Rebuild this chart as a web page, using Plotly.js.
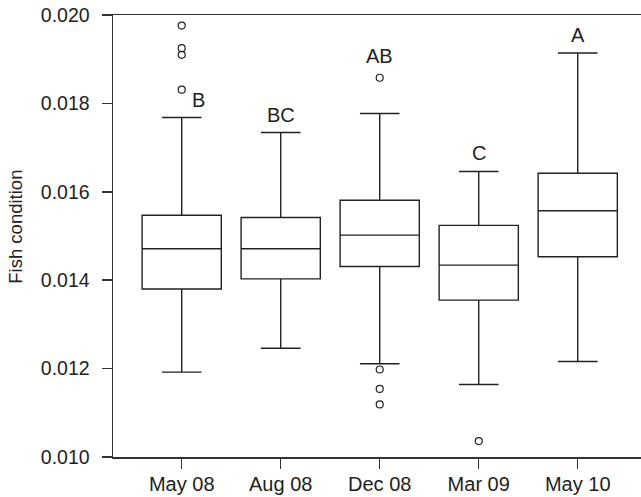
<!DOCTYPE html>
<html>
<head>
<meta charset="utf-8">
<script src="https://cdn.plot.ly/plotly-3.0.1.min.js"></script>
<style>html,body{margin:0;padding:0;background:#fff;}#chart{width:641px;height:497px;}</style>
</head>
<body>
<div id="chart"></div>
<script>
var categories = ["May 08", "Aug 08", "Dec 08", "Mar 09", "May 10"];
var lowerFence = [0.01192, 0.01246, 0.01211, 0.01164, 0.01216];
var q1         = [0.01380, 0.01403, 0.01431, 0.01355, 0.01453];
var median     = [0.01471, 0.01471, 0.01502, 0.01434, 0.01557];
var q3         = [0.01547, 0.01542, 0.01581, 0.01524, 0.01642];
var upperFence = [0.01768, 0.01734, 0.01777, 0.01646, 0.01914];
var outlierCat = ["May 08", "May 08", "May 08", "May 08", "Dec 08", "Dec 08", "Dec 08", "Dec 08", "Mar 09"];
var outlierVal = [0.01976, 0.01925, 0.01910, 0.01831, 0.01858, 0.01198, 0.01154, 0.01119, 0.01036];
var letters    = ["B", "BC", "AB", "C", "A"];
var yTicks     = [0.010, 0.012, 0.014, 0.016, 0.018, 0.020];
var yTickText  = ["0.010", "0.012", "0.014", "0.016", "0.018", "0.020"];
var yTitle     = "Fish condition";

var ink = "#222";
var fam = "Liberation Sans, Arial, sans-serif";
var xTickFont = {family: fam, size: 20, color: "#222"};
var yTickFont = {family: fam, size: 19.5, color: "#222"};
var titleFont = {family: fam, size: 18.5, color: "#222"};

var boxTrace = {
  type: "box",
  x: categories,
  q1: q1, median: median, q3: q3,
  lowerfence: lowerFence, upperfence: upperFence,
  fillcolor: "rgba(255,255,255,0)",
  line: {color: ink, width: 1.4},
  whiskerwidth: 0.5,
  boxpoints: false,
  hoverinfo: "skip",
  showlegend: false
};
var outTrace = {
  type: "scatter", mode: "markers",
  x: outlierCat, y: outlierVal,
  marker: {symbol: "circle-open", size: 7, color: ink, line: {width: 1.2, color: ink}},
  hoverinfo: "skip", showlegend: false
};

var annotations = letters.map(function (t, i) {
  var top = upperFence[i];
  var xs = 0;
  if (i === 0) { xs = 17; }
  if (i === 2) {
    outlierVal.forEach(function (v, k) { if (outlierCat[k] === categories[i] && v > top) top = v; });
    top += 0.00008;
  }
  return {x: categories[i], y: top, text: t, showarrow: false, xanchor: "center", yanchor: "bottom",
          xshift: xs, yshift: 5, font: {family: fam, size: 20, color: "#222"}};
});
annotations.push({
  xref: "paper", yref: "paper", x: 0, y: 0.521, xshift: -97,
  text: yTitle, textangle: -90, showarrow: false,
  xanchor: "center", yanchor: "middle", font: titleFont
});

var layout = {
  width: 641, height: 497,
  margin: {l: 113, r: 0, t: 15, b: 40},
  paper_bgcolor: "#fff", plot_bgcolor: "#fff",
  font: yTickFont,
  boxgap: 0.2, boxgroupgap: 0,
  xaxis: {
    type: "category", range: [-0.694, 4.639],
    showgrid: false, zeroline: false,
    showline: true, linecolor: "#333", linewidth: 1.5, mirror: true,
    ticks: "outside", ticklen: 10, tickwidth: 1.5, tickcolor: "#333",
    tickfont: xTickFont, ticklabelstandoff: -2
  },
  yaxis: {
    range: [0.010, 0.020],
    tickvals: yTicks, ticktext: yTickText,
    showgrid: false, zeroline: false,
    showline: true, linecolor: "#333", linewidth: 1.5,
    ticks: "outside", ticklen: 10, tickwidth: 1.5, tickcolor: "#333",
    tickfont: yTickFont, ticklabelstandoff: 8
  },
  annotations: annotations,
  showlegend: false
};

Plotly.newPlot("chart", [boxTrace, outTrace], layout, {staticPlot: true, displayModeBar: false});
</script>
</body>
</html>
